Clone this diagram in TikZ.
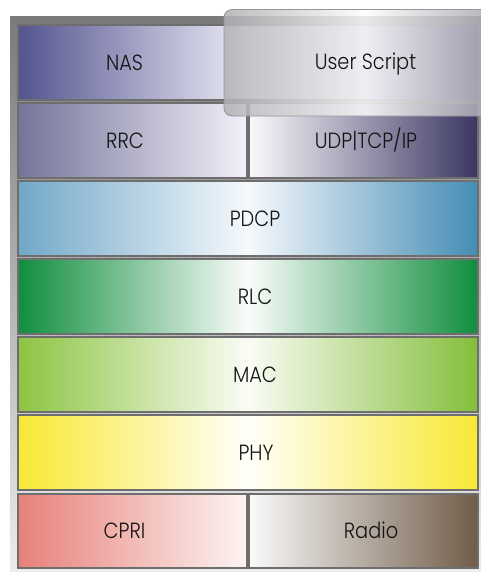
\documentclass[tikz,border=0pt]{standalone}
\usepackage{fontspec}
\setmainfont{Poppins Light}[FakeStretch=0.88]

% layer colours
\definecolor{frameTop}{RGB}{122,122,122}
\definecolor{frameBot}{RGB}{236,236,236}
\definecolor{nasL}{RGB}{84,84,144}
\definecolor{nasM}{RGB}{236,236,246}
\definecolor{rrcL}{RGB}{116,116,154}
\definecolor{rrcR}{RGB}{242,240,248}
\definecolor{udpL}{RGB}{250,250,252}
\definecolor{udpR}{RGB}{58,54,98}
\definecolor{pdcpL}{RGB}{112,168,200}
\definecolor{pdcpM}{RGB}{246,249,252}
\definecolor{pdcpR}{RGB}{68,140,180}
\definecolor{rlcL}{RGB}{16,142,62}
\definecolor{rlcM}{RGB}{250,252,250}
\definecolor{macL}{RGB}{141,196,66}
\definecolor{macM}{RGB}{250,252,245}
\definecolor{macR}{RGB}{132,190,58}
\definecolor{phyL}{RGB}{248,232,52}
\definecolor{phyM}{RGB}{255,255,250}
\definecolor{cpriL}{RGB}{232,128,122}
\definecolor{cpriR}{RGB}{252,244,242}
\definecolor{radioL}{RGB}{250,250,250}
\definecolor{radioR}{RGB}{112,92,72}
\definecolor{silverL}{RGB}{176,176,180}
\definecolor{silverM}{RGB}{252,252,252}
\definecolor{silverR}{RGB}{156,156,166}
\definecolor{edge}{RGB}{110,110,110}

\tikzset{every picture/.style={line width=0.75pt}}
\tikzset{
  layer/.style={draw=edge, line width=0.9},
  lbl/.style={inner sep=0.75pt, text height=11.3pt, text depth=0pt,
    font=\fontsize{16.5}{19}\selectfont, text={rgb,255:red,20;green,20;blue,20}},
}

\begin{document}
\begin{tikzpicture}[x=0.75pt,y=0.75pt,yscale=-1,xscale=1]
\useasboundingbox (0,0) rectangle (481,572);
\clip (0,0) rectangle (481,572);
% frame round the stack
\draw [draw=none, top color=frameTop, bottom color=frameBot] (10,16) rectangle (490,571);
% NAS
\draw [layer, left color=nasL, right color=nasL, middle color=nasM] (18,25) rectangle (478,100);
\node [lbl] (nas) at (124.5,62.5) {NAS};
% RRC and UDP|TCP/IP
\draw [layer, left color=rrcL, right color=rrcR] (18,103) rectangle (247,178);
\node [lbl] (rrc) at (125,140.5) {RRC};
\draw [layer, left color=udpL, right color=udpR] (249,103) rectangle (478,178);
\node [lbl] (udp) at (366,140.5) {UDP|TCP/IP};
% PDCP
\draw [layer, left color=pdcpL, right color=pdcpR, middle color=pdcpM] (18,181) rectangle (478,256);
\node [lbl] (pdcp) at (255,218.5) {PDCP};
% RLC
\draw [layer, left color=rlcL, right color=rlcL, middle color=rlcM] (18,259) rectangle (478,334);
\node [lbl] (rlc) at (255,296.5) {RLC};
% MAC
\draw [layer, left color=macL, right color=macR, middle color=macM] (18,337) rectangle (478,412);
\node [lbl] (mac) at (255,374.5) {MAC};
% PHY
\draw [layer, left color=phyL, right color=phyL, middle color=phyM] (18,415) rectangle (478,490);
\node [lbl] (phy) at (256,452.5) {PHY};
% CPRI and Radio
\draw [layer, left color=cpriL, right color=cpriR] (18,494) rectangle (247,568);
\node [lbl] (cpri) at (124.5,531) {CPRI};
\draw [layer, left color=radioL, right color=radioR] (249,494) rectangle (478,568);
\node [lbl] (radio) at (371,531) {Radio};
% glass panel on top
\draw [draw={rgb,255:red,150;green,150;blue,150}, line width=0.6, rounded corners=6,
  left color=silverL, right color=silverR, middle color=silverM, fill opacity=0.85]
  (224,9.5) rectangle (507,116);
\node [lbl] (script) at (365.5,62) {User Script};
\end{tikzpicture}
\end{document}
